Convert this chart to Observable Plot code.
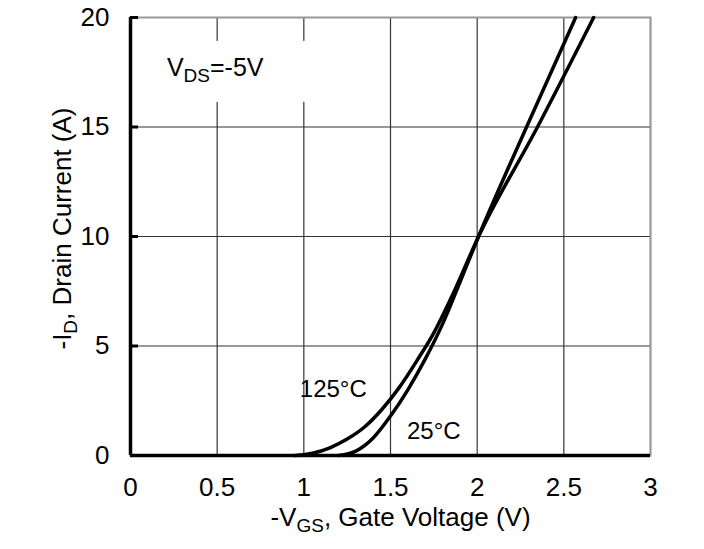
<!DOCTYPE html>
<html><head><meta charset="utf-8">
<script src="https://cdn.jsdelivr.net/npm/d3@7"></script>
<script src="https://cdn.jsdelivr.net/npm/@observablehq/plot@0.6"></script>
<style>body{margin:0;background:#fff;} svg{display:block}</style>
</head><body><div id="chart"></div>
<script>
// -VGS (V) and -ID (A)
const vgs25  = [1.20, 1.30, 1.40, 1.50, 1.60, 1.70, 1.80, 1.90, 2.008, 2.285, 2.568];
const id25   = [0.0, 0.2, 0.8, 1.8, 3.0, 4.4, 6.0, 7.9, 10.0, 15.0, 20.0];
const vgs125 = [0.95, 1.05, 1.15, 1.25, 1.35, 1.45, 1.55, 1.65, 1.75, 1.85, 2.008, 2.348, 2.672];
const id125  = [0.0, 0.1, 0.35, 0.75, 1.3, 2.1, 3.1, 4.3, 5.6, 7.2, 10.0, 15.0, 20.0];
const seriesNames = ["25°C", "125°C"];
const xTicks = [0, 0.5, 1, 1.5, 2, 2.5, 3];
const yTicks = [0, 5, 10, 15, 20];
const curveLabels = ["125°C", "25°C"];
const curveLabelVgs = [1.17, 1.75];
const curveLabelId = [3.0, 1.1];
const conditionText = "VDS=-5V";
const conditionVgs = 0.21;
const conditionId = 17.7;
const xTitle = "-VGS, Gate Voltage (V)";
const yTitle = "-ID, Drain Current (A)";

const rows = [
  ...vgs25.map((v, i) => ({vgs: v, id: id25[i], s: seriesNames[0]})),
  ...vgs125.map((v, i) => ({vgs: v, id: id125[i], s: seriesNames[1]}))
];
const labelRows = curveLabels.map((t, i) => ({t, vgs: curveLabelVgs[i], id: curveLabelId[i]}));

const W = 704, H = 549, ML = 130, MR = 54, MT = 17, MB = 94;
const chart = Plot.plot({
  width: W, height: H,
  marginLeft: ML, marginRight: MR, marginTop: MT, marginBottom: MB,
  style: {fontFamily: "'Liberation Sans', Arial, sans-serif", color: "#000", background: "#fff", overflow: "visible"},
  x: {domain: [0, 3], ticks: xTicks, label: null},
  y: {domain: [0, 20], ticks: yTicks, label: null},
  marks: [
    Plot.gridX(xTicks, {stroke: "#333", strokeOpacity: 1, strokeWidth: 1.2}),
    Plot.gridY(yTicks, {stroke: "#333", strokeOpacity: 1, strokeWidth: 1.2}),
    Plot.frame({stroke: "#999", strokeWidth: 2}),
    Plot.tickY(yTicks, {y: d => d, stroke: "#000", strokeWidth: 3, insetRight: W - ML - MR - 8}),
    Plot.ruleX([0], {stroke: "#000", strokeWidth: 3.5}),
    Plot.ruleY([0], {stroke: "#000", strokeWidth: 3.5}),
    Plot.axisX(xTicks, {tickSize: 0, tickPadding: 22, fontSize: 26, label: null, tickFormat: d => String(d)}),
    Plot.axisY(yTicks, {tickSize: 0, tickPadding: 21, fontSize: 26, label: null, tickFormat: d => String(d)}),
    Plot.line(rows, {x: "vgs", y: "id", z: "s", stroke: "#000", strokeWidth: 3.5, curve: "monotone-x"}),
    Plot.text(labelRows, {x: "vgs", y: "id", text: "t", fontSize: 24, fill: "#000"}),
    Plot.text([{t: conditionText, vgs: conditionVgs, id: conditionId}], {x: "vgs", y: "id", text: "t", textAnchor: "start", fontSize: 25, fill: "#000"}),
    Plot.text([yTitle], {text: d => d, frameAnchor: "top-left", dx: -78, dy: 90, rotate: -90, textAnchor: "end", fontSize: 26, fill: "#000"}),
    Plot.text([xTitle], {text: d => d, frameAnchor: "bottom", dx: 10, dy: 70, fontSize: 26, fill: "#000"})
  ]
});
document.getElementById("chart").appendChild(chart);

// subscripts
const re = /(V|I)(DS|GS|D)(?=[=,])/;
chart.querySelectorAll("text").forEach(el => {
  const s = el.textContent;
  const m = s.match(re);
  if (!m) return;
  const cut = m.index + 1;
  const sub = m[2];
  el.textContent = "";
  const ns = "http://www.w3.org/2000/svg";
  const a = document.createElementNS(ns, "tspan"); a.textContent = s.slice(0, cut);
  const b = document.createElementNS(ns, "tspan"); b.textContent = sub; b.setAttribute("font-size", "19"); b.setAttribute("dy", "6");
  const c = document.createElementNS(ns, "tspan"); c.textContent = s.slice(cut + sub.length); c.setAttribute("dy", "-6");
  el.append(a, b, c);
});

// white background box behind the test-condition note (placed from the rendered text box)
const svgBox = chart.getBoundingClientRect();
chart.querySelectorAll("text").forEach(el => {
  if (el.textContent !== conditionText) return;
  const bb = el.getBoundingClientRect();
  let g = el;
  while (g.parentNode && g.parentNode !== chart) g = g.parentNode;
  const rect = document.createElementNS("http://www.w3.org/2000/svg", "rect");
  rect.setAttribute("x", bb.left - svgBox.left - 20);
  rect.setAttribute("y", bb.top - svgBox.top - 12);
  rect.setAttribute("width", bb.width + 68);
  rect.setAttribute("height", bb.height + 28);
  rect.setAttribute("fill", "#fff");
  chart.insertBefore(rect, g);
});
</script>
</body></html>
